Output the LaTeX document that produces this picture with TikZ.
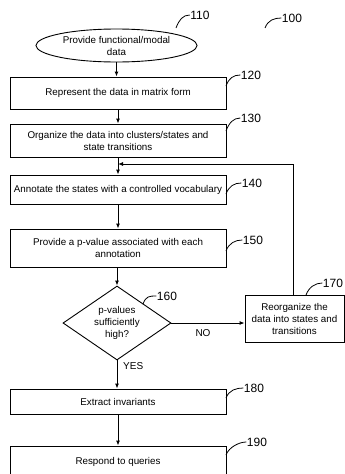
\documentclass[tikz,border=0pt]{standalone}
\usepackage{fontspec}
\setmainfont{Liberation Sans}
\usetikzlibrary{shapes.geometric,arrows.meta}
\begin{document}
\begin{tikzpicture}[x=1pt,y=-1pt,
  base/.style={draw, line width=0.9pt, font=\fontsize{9.8}{12}\selectfont, align=center, inner sep=0pt},
  box/.style={base, rectangle, minimum width=216pt},
  arr/.style={line width=0.9pt, -{Latex[length=5pt,width=4pt]}},
  lead/.style={line width=0.8pt},
  lbl/.style={font=\fontsize{12}{14}\selectfont, inner sep=0pt},
  yn/.style={font=\fontsize{10}{12}\selectfont, inner sep=0pt}]
\useasboundingbox (0,0) rectangle (345,474);
\node[base, ellipse, minimum width=161pt, minimum height=33pt] (n110) at (116.5,45.5) {Provide functional/modal\\data};
\node[box, minimum height=32pt] (n120) at (118,93) {Represent the data in matrix form};
\node[box, minimum height=33pt] (n130) at (118,140.5) {Organize the data into clusters/states and\\state transitions};
\node[box, minimum height=29pt] (n140) at (118,189.5) {Annotate the states with a controlled vocabulary};
\node[box, minimum height=38pt] (n150) at (118,248) {Provide a p-value associated with each\\annotation};
\node[base, diamond, aspect=1.46, minimum width=108pt, minimum height=74pt] (n160) at (117,323) {p-values\\sufficiently\\high?};
\node[base, rectangle, minimum width=99pt, minimum height=47pt] (n170) at (294.5,318.5) {Reorganize the\\data into states and\\transitions};
\node[box, minimum height=25pt] (n180) at (118,401.5) {Extract invariants};
\node[box, minimum height=32pt] (n190) at (118,462) {Respond to queries};
% arrows
\draw[arr] (n110.south) -- (n110.south |- n120.north);
\draw[arr] (n120.south) -- (n130.north);
\draw[arr] (n130.south) -- (n140.north);
\draw[arr] (n140.south) -- (n150.north);
\draw[arr] (n160.north |- n150.south) -- (n160.north);
\draw[arr] (n160.south) -- (n160.south |- n180.north);
\draw[arr] (n180.south) -- (n190.north);
\draw[arr] (n160.east) -- (n160.east -| n170.west);
\coordinate (fb) at (118,164);
\draw[arr] (n170.north -| 293,0) |- (fb);
\node[yn, anchor=west] (yes) at (123,366) {YES};
\node[yn] (no) at (203,333) {NO};
% labels
\node[lbl] (l110) at (200,15) {110};
\node[lbl] (l100) at (292,18) {100};
\node[lbl] (l120) at (251,75) {120};
\node[lbl] (l130) at (251,118) {130};
\node[lbl] (l140) at (252,183) {140};
\node[lbl] (l150) at (253,240) {150};
\node[lbl] (l160) at (167,296) {160};
\node[lbl] (l170) at (333,283) {170};
\node[lbl] (l180) at (254,388) {180};
\node[lbl] (l190) at (257,442) {190};
\coordinate (s110) at (176,28);
\coordinate (s100) at (265,28);
\coordinate (s120) at (226,86);
\coordinate (s130) at (226,131);
\coordinate (s140) at (226,194);
\coordinate (s150) at (226,251);
\coordinate (s160) at (143,304);
\coordinate (s170) at (306,295);
\coordinate (s180) at (226,398);
\coordinate (s190) at (226,455);
\foreach \n in {110,100,120,130,140,150,160,170,180,190}{
  \draw[lead] (s\n) .. controls +(3,-8) and +(-7,0) .. ([xshift=-0.5pt]l\n.west);
}
\end{tikzpicture}
\end{document}
